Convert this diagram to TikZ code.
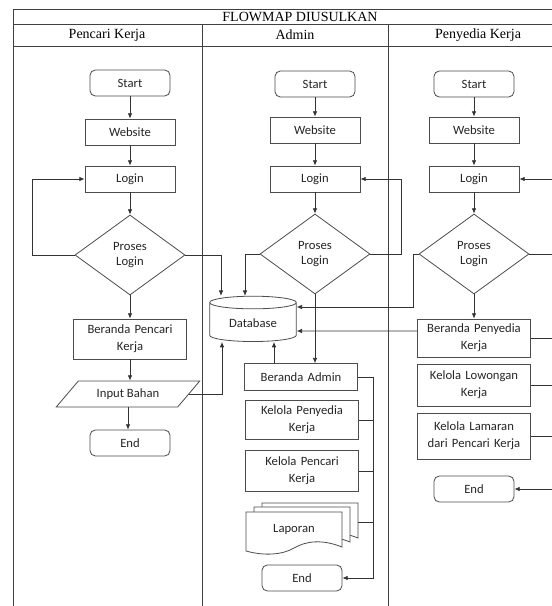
\documentclass[tikz,border=0pt]{standalone}
\usepackage{fontspec}
\setmainfont{Liberation Serif}
\newfontfamily\calibri{Carlito}
\usetikzlibrary{shapes.geometric,arrows.meta,calc}

\begin{document}
\begin{tikzpicture}[x=0.75pt,y=0.75pt,yscale=-1,xscale=1,
  every node/.style={font=\calibri\fontsize{9.5}{11}\selectfont, text=black!85},
  box/.style={draw=black!70, fill=white, line width=0.6pt, align=center, inner sep=1pt},
  terminal/.style={box, rounded corners=4pt, minimum width=60pt, minimum height=19.5pt},
  proc/.style={box, minimum width=67.5pt, minimum height=19.5pt},
  proc2/.style={box, font=\calibri\fontsize{9.5}{13}\selectfont, minimum width=85pt, minimum height=30pt, text width=80pt},
  decision/.style={box, diamond, minimum width=82.5pt, minimum height=60pt},
  io/.style={box, trapezium, trapezium left angle=43, trapezium right angle=137, trapezium stretches=true, minimum width=108pt, minimum height=19.5pt},
  dbase/.style={box, cylinder, shape border rotate=90, shape aspect=0.25, minimum width=65pt, minimum height=34pt},
  docsheet/.style={draw=black!70, fill=white, line width=0.6pt},
  arr/.style={draw=black!80, line width=0.6pt, -{Latex[length=4pt,width=3.5pt]}},
  link/.style={draw=black!80, line width=0.6pt},
  lane/.style={draw=black!75, line width=0.7pt},
  head/.style={font=\fontsize{10.5}{12}\selectfont, text=black}
]
\useasboundingbox (0,0) rectangle (552,606);
\clip (0,0) rectangle (552,606);

% swimlane table
\draw[lane] (13,610) -- (13,9) -- (560,9);
\draw[lane] (13,24) -- (560,24);
\draw[lane] (13,46) -- (560,46);
\draw[lane] (202,24) -- (202,610);
\draw[lane] (388,24) -- (388,610);
\node[head] (tTitle) at (300,16.5) {FLOWMAP DIUSULKAN};
\node[head] (hPencari) at (107,35) {Pencari Kerja};
\node[head] (hAdmin) at (295,35) {Admin};
\node[head] (hPenyedia) at (478,35) {Penyedia Kerja};

% Pencari Kerja
\node[terminal] (pkStart) at (130,83) {Start};
\node[proc] (pkWeb) at (130,132) {Website};
\node[proc] (pkLogin) at (130,179) {Login};
\node[decision] (pkProses) at (130,255) {Proses\\Login};
\node[proc2] (pkBeranda) at (130,339) {Beranda Pencari\\Kerja};
\node[io] (pkInput) at (128,394) {Input Bahan};
\node[terminal] (pkEnd) at (130,443) {End};

% Admin
\node[terminal] (adStart) at (315,84) {Start};
\node[proc] (adWeb) at (315,130) {Website};
\node[proc] (adLogin) at (315,179) {Login};
\node[decision] (adProses) at (315,254) {Proses\\Login};
\node[dbase] (db) at (253,323) {Database};
\node[proc2, minimum height=20pt] (adBeranda) at (301,377) {Beranda Admin};
\node[proc2, minimum height=29pt] (adPenyedia) at (302,420) {Kelola Penyedia\\Kerja};
\node[proc2, minimum height=31pt] (adPencari) at (302,471) {Kelola Pencari\\Kerja};
\foreach \dx/\dy in {16/-9,8/-5,0/0}
  \draw[docsheet, shift={(\dx,\dy)}] (246,512) -- (342,512) -- (342,547) .. controls (322,539) and (306,541) .. (294,548) .. controls (282,555) and (264,556) .. (246,551) -- cycle;
\node (lap) at (294,529) {Laporan};
\coordinate (lapR) at (358,522);
\node[terminal] (adEnd) at (302,578) {End};

% Penyedia Kerja
\node[terminal] (pyStart) at (474,84) {Start};
\node[proc] (pyWeb) at (474,130) {Website};
\node[proc] (pyLogin) at (474,179) {Login};
\node[decision] (pyProses) at (474,254) {Proses\\Login};
\node[proc2, minimum height=28.5pt] (pyBeranda) at (474,338) {Beranda Penyedia\\Kerja};
\node[proc2, minimum height=31.5pt] (pyLowongan) at (474,385) {Kelola Lowongan\\Kerja};
\node[proc2, minimum height=34.5pt] (pyLamaran) at (474,436) {Kelola Lamaran\\dari Pencari Kerja};
\node[terminal] (pyEnd) at (474,489) {End};

\coordinate (adBus) at (373,0);
\coordinate (pyBus) at (557,0);

% flow down each lane
\foreach \a/\b in {pkStart/pkWeb,pkWeb/pkLogin,pkLogin/pkProses,pkProses/pkBeranda,pkBeranda/pkInput,pkInput/pkEnd,
                   adStart/adWeb,adWeb/adLogin,adLogin/adProses,adProses/adBeranda,
                   pyStart/pyWeb,pyWeb/pyLogin,pyLogin/pyProses,pyProses/pyBeranda}
  \draw[arr] (\a.south) -- (\a.south |- \b.north);

% login loops
\draw[arr] (pkProses.west) -- ++(-42,0) |- (pkLogin.west);
\draw[arr] (adProses.east) -- ++(31,0) |- (adLogin.east);
\draw[arr] (pyProses.east) -- (pyProses.east -| pyBus) |- (pyLogin.east);

% to the database
\draw[arr] (pkProses.east) -| ($(db.north)+(-32,0)$);
\draw[arr] (pkInput.east) -| ($(db.south)+(-31,0)$);
\draw[arr] (adProses.west) -| ($(db.north)+(-8,0)$);
\draw[arr] ($(adBeranda.north)+(-27,0)$) -- ($(db.south)+(21,0)$);
\draw[arr] (pyProses.west) -- ++(-5,0) |- ($(db.east)+(0,-16)$);
\draw[arr] ($(pyBeranda.west)+(0,-7)$) -- ($(db.east)+(0,8)$);

% admin menu
\draw[arr] (adBeranda.east) -- (adBeranda.east -| adBus) |- (adEnd.east);
\draw[link] (adPenyedia.east) -- (adPenyedia.east -| adBus);
\draw[link] (adPencari.east) -- (adPencari.east -| adBus);
\draw[link] (lapR) -- (lapR -| adBus);

% penyedia menu
\draw[arr] (pyBeranda.east) -- (pyBeranda.east -| pyBus) |- (pyEnd.east);
\draw[link] (pyLowongan.east) -- (pyLowongan.east -| pyBus);
\draw[link] (pyLamaran.east) -- (pyLamaran.east -| pyBus);
\end{tikzpicture}
\end{document}
